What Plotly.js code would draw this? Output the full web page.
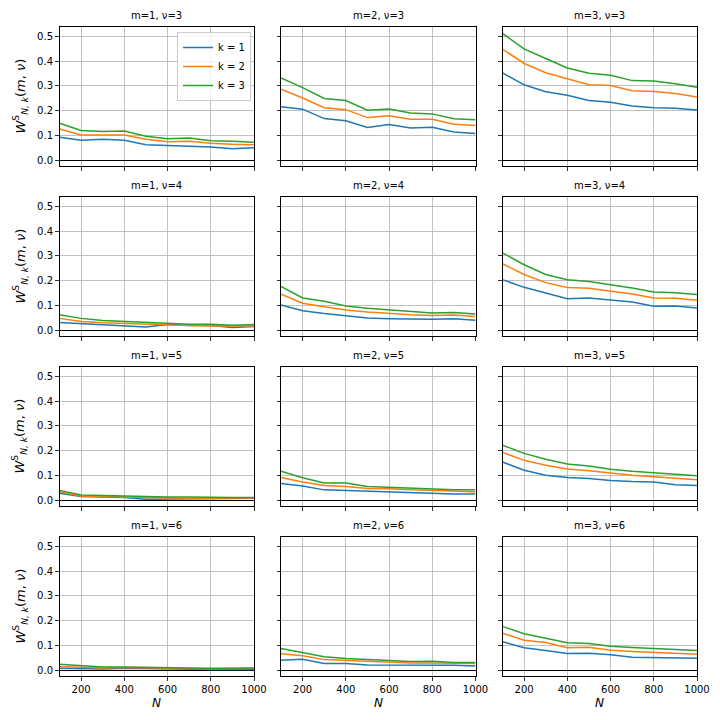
<!DOCTYPE html>
<html>
<head>
<meta charset="utf-8">
<script src="https://cdn.plot.ly/plotly-3.0.1.min.js"></script>
<style>html,body{margin:0;padding:0;background:#fff;}#chart{width:720px;height:720px;}</style>
</head>
<body>
<div id="chart"></div>
<script>
// Sample sizes
const N = [100, 200, 300, 400, 500, 600, 700, 800, 900, 1000];
const seriesNames = ['k = 1', 'k = 2', 'k = 3'];
const colors = ['#1f77b4', '#ff7f0e', '#2ca02c'];
const panelTitles = [
  'm=1, ν=3', 'm=2, ν=3', 'm=3, ν=3',
  'm=1, ν=4', 'm=2, ν=4', 'm=3, ν=4',
  'm=1, ν=5', 'm=2, ν=5', 'm=3, ν=5',
  'm=1, ν=6', 'm=2, ν=6', 'm=3, ν=6'
];

// m=1, nu=3
const m1_nu3_k1 = [0.093, 0.081, 0.085, 0.081, 0.063, 0.060, 0.059, 0.054, 0.046, 0.051];
const m1_nu3_k2 = [0.126, 0.102, 0.102, 0.102, 0.085, 0.075, 0.077, 0.069, 0.065, 0.063];
const m1_nu3_k3 = [0.149, 0.120, 0.116, 0.118, 0.097, 0.087, 0.090, 0.079, 0.077, 0.073];
// m=2, nu=3
const m2_nu3_k1 = [0.216, 0.206, 0.168, 0.159, 0.132, 0.144, 0.130, 0.133, 0.114, 0.108];
const m2_nu3_k2 = [0.286, 0.251, 0.212, 0.204, 0.172, 0.179, 0.165, 0.165, 0.145, 0.140];
const m2_nu3_k3 = [0.332, 0.293, 0.249, 0.241, 0.202, 0.207, 0.191, 0.187, 0.167, 0.163];
// m=3, nu=3
const m3_nu3_k1 = [0.352, 0.304, 0.276, 0.262, 0.241, 0.234, 0.219, 0.212, 0.210, 0.203];
const m3_nu3_k2 = [0.448, 0.390, 0.353, 0.328, 0.304, 0.301, 0.280, 0.277, 0.269, 0.255];
const m3_nu3_k3 = [0.511, 0.449, 0.410, 0.372, 0.351, 0.343, 0.321, 0.319, 0.308, 0.294];
// m=1, nu=4
const m1_nu4_k1 = [0.031, 0.026, 0.021, 0.019, 0.013, 0.023, 0.019, 0.019, 0.011, 0.015];
const m1_nu4_k2 = [0.048, 0.035, 0.030, 0.027, 0.023, 0.020, 0.019, 0.017, 0.016, 0.017];
const m1_nu4_k3 = [0.063, 0.048, 0.039, 0.035, 0.031, 0.026, 0.024, 0.024, 0.020, 0.023];
// m=2, nu=4
const m2_nu4_k1 = [0.102, 0.079, 0.068, 0.059, 0.050, 0.047, 0.046, 0.044, 0.047, 0.040];
const m2_nu4_k2 = [0.145, 0.109, 0.095, 0.082, 0.074, 0.067, 0.063, 0.060, 0.062, 0.056];
const m2_nu4_k3 = [0.177, 0.130, 0.117, 0.098, 0.089, 0.082, 0.077, 0.070, 0.072, 0.066];
// m=3, nu=4
const m3_nu4_k1 = [0.204, 0.173, 0.150, 0.127, 0.130, 0.122, 0.114, 0.097, 0.098, 0.090];
const m3_nu4_k2 = [0.268, 0.225, 0.192, 0.172, 0.169, 0.157, 0.146, 0.130, 0.129, 0.121];
const m3_nu4_k3 = [0.312, 0.264, 0.225, 0.204, 0.197, 0.184, 0.170, 0.154, 0.151, 0.144];
// m=1, nu=5
const m1_nu5_k1 = [0.028, 0.015, 0.013, 0.011, 0.004, 0.005, 0.005, 0.004, 0.005, 0.008];
const m1_nu5_k2 = [0.034, 0.017, 0.015, 0.012, 0.009, 0.009, 0.008, 0.008, 0.008, 0.009];
const m1_nu5_k3 = [0.040, 0.021, 0.019, 0.017, 0.013, 0.013, 0.013, 0.011, 0.011, 0.011];
// m=2, nu=5
const m2_nu5_k1 = [0.068, 0.058, 0.042, 0.039, 0.035, 0.031, 0.028, 0.028, 0.025, 0.025];
const m2_nu5_k2 = [0.092, 0.074, 0.060, 0.056, 0.048, 0.047, 0.042, 0.039, 0.035, 0.034];
const m2_nu5_k3 = [0.117, 0.091, 0.070, 0.070, 0.056, 0.052, 0.050, 0.047, 0.042, 0.042];
// m=3, nu=5
const m3_nu5_k1 = [0.154, 0.121, 0.101, 0.092, 0.088, 0.080, 0.076, 0.074, 0.063, 0.060];
const m3_nu5_k2 = [0.193, 0.161, 0.141, 0.126, 0.119, 0.109, 0.101, 0.095, 0.088, 0.083];
const m3_nu5_k3 = [0.222, 0.189, 0.165, 0.146, 0.138, 0.125, 0.117, 0.110, 0.106, 0.099];
// m=1, nu=6
const m1_nu6_k1 = [0.008, 0.006, 0.005, 0.008, 0.006, 0.004, 0.004, 0.003, 0.004, 0.003];
const m1_nu6_k2 = [0.015, 0.011, 0.009, 0.011, 0.009, 0.007, 0.007, 0.006, 0.008, 0.007];
const m1_nu6_k3 = [0.024, 0.017, 0.013, 0.013, 0.011, 0.008, 0.009, 0.008, 0.009, 0.009];
// m=2, nu=6
const m2_nu6_k1 = [0.040, 0.044, 0.027, 0.027, 0.021, 0.021, 0.021, 0.020, 0.020, 0.017];
const m2_nu6_k2 = [0.067, 0.059, 0.043, 0.039, 0.035, 0.031, 0.029, 0.029, 0.027, 0.027];
const m2_nu6_k3 = [0.088, 0.071, 0.055, 0.048, 0.044, 0.039, 0.035, 0.036, 0.031, 0.031];
// m=3, nu=6
const m3_nu6_k1 = [0.115, 0.091, 0.080, 0.068, 0.069, 0.063, 0.053, 0.052, 0.052, 0.049];
const m3_nu6_k2 = [0.149, 0.121, 0.112, 0.091, 0.093, 0.081, 0.076, 0.072, 0.069, 0.065];
const m3_nu6_k3 = [0.177, 0.147, 0.129, 0.111, 0.108, 0.097, 0.092, 0.088, 0.083, 0.080];

const panels = [
  [m1_nu3_k1, m1_nu3_k2, m1_nu3_k3], [m2_nu3_k1, m2_nu3_k2, m2_nu3_k3], [m3_nu3_k1, m3_nu3_k2, m3_nu3_k3],
  [m1_nu4_k1, m1_nu4_k2, m1_nu4_k3], [m2_nu4_k1, m2_nu4_k2, m2_nu4_k3], [m3_nu4_k1, m3_nu4_k2, m3_nu4_k3],
  [m1_nu5_k1, m1_nu5_k2, m1_nu5_k3], [m2_nu5_k1, m2_nu5_k2, m2_nu5_k3], [m3_nu5_k1, m3_nu5_k2, m3_nu5_k3],
  [m1_nu6_k1, m1_nu6_k2, m1_nu6_k3], [m2_nu6_k1, m2_nu6_k2, m2_nu6_k3], [m3_nu6_k1, m3_nu6_k2, m3_nu6_k3]
];

const W = 720, H = 720;
const colPx = [[59.5, 254], [281, 475.5], [502.5, 697]];
const rowPx = [[27, 166], [197, 336], [367, 506], [537, 676]];
const FONT = 'DejaVu Sans, sans-serif';

const traces = [];
const layout = {
  width: W, height: H,
  margin: {l: 0, r: 0, t: 0, b: 0},
  paper_bgcolor: '#fff', plot_bgcolor: '#fff',
  font: {family: FONT, size: 10, color: '#000'},
  showlegend: true,
  legend: {
    x: 251 / W, xanchor: 'right', y: 1 - 32 / H, yanchor: 'top',
    bgcolor: 'rgba(255,255,255,0.8)', bordercolor: '#cccccc', borderwidth: 1,
    font: {family: FONT, size: 10, color: '#000'},
    tracegroupgap: 0, itemwidth: 30
  },
  annotations: []
};

panels.forEach((panel, i) => {
  const row = Math.floor(i / 3), col = i % 3;
  const n = i + 1;
  const xk = n === 1 ? 'x' : 'x' + n;
  const yk = n === 1 ? 'y' : 'y' + n;
  panel.forEach((vals, s) => {
    traces.push({
      x: N, y: vals, type: 'scatter', mode: 'lines',
      name: seriesNames[s], xaxis: xk, yaxis: yk,
      line: {color: colors[s], width: 1.5},
      showlegend: i === 0
    });
  });
  const xd = [colPx[col][0] / W, colPx[col][1] / W];
  const yd = [1 - rowPx[row][1] / H, 1 - rowPx[row][0] / H];
  layout['xaxis' + (n === 1 ? '' : n)] = {
    domain: xd, anchor: yk, range: [100, 1000],
    tickvals: [200, 400, 600, 800, 1000],
    showticklabels: row === 3,
    ticks: 'outside', ticklen: 3.5, tickwidth: 0.8, tickcolor: '#000',
    showgrid: true, gridcolor: '#b0b0b0', gridwidth: 0.8,
    showline: true, mirror: true, linecolor: '#000', linewidth: 1,
    zeroline: false,
    tickfont: {family: FONT, size: 10, color: '#000'}
  };
  layout['yaxis' + (n === 1 ? '' : n)] = {
    domain: yd, anchor: xk, range: [-0.023, 0.537],
    tickvals: [0, 0.1, 0.2, 0.3, 0.4, 0.5], tickformat: '.1f',
    showticklabels: col === 0,
    ticks: 'outside', ticklen: 3.5, tickwidth: 0.8, tickcolor: '#000',
    showgrid: true, gridcolor: '#b0b0b0', gridwidth: 0.8,
    showline: true, mirror: true, linecolor: '#000', linewidth: 1,
    zeroline: true, zerolinecolor: '#000', zerolinewidth: 1.3,
    tickfont: {family: FONT, size: 10, color: '#000'}
  };
  layout.annotations.push({
    text: panelTitles[i], xref: 'paper', yref: 'paper',
    x: (xd[0] + xd[1]) / 2, y: yd[1] + 4 / H, xanchor: 'center', yanchor: 'bottom',
    showarrow: false, font: {family: FONT, size: 10, color: '#000'}
  });
  if (row === 3) {
    layout.annotations.push({
      text: '<i>N</i>', xref: 'paper', yref: 'paper',
      x: (xd[0] + xd[1]) / 2, y: 1 - 703 / H, xanchor: 'center', yanchor: 'middle',
      showarrow: false, font: {family: FONT, size: 12, color: '#000'}
    });
  }
  if (col === 0) {
    layout.annotations.push({
      text: '<i>W</i><sup>S</sup><sub><i>N, k</i></sub>(<i>m</i>, <i>ν</i>)',
      xref: 'paper', yref: 'paper', x: 20 / W, y: (yd[0] + yd[1]) / 2,
      xanchor: 'center', yanchor: 'middle', textangle: -90,
      showarrow: false, font: {family: FONT, size: 13, color: '#000'}
    });
  }
});

Plotly.newPlot('chart', traces, layout, {staticPlot: true, displayModeBar: false});
</script>
</body>
</html>
